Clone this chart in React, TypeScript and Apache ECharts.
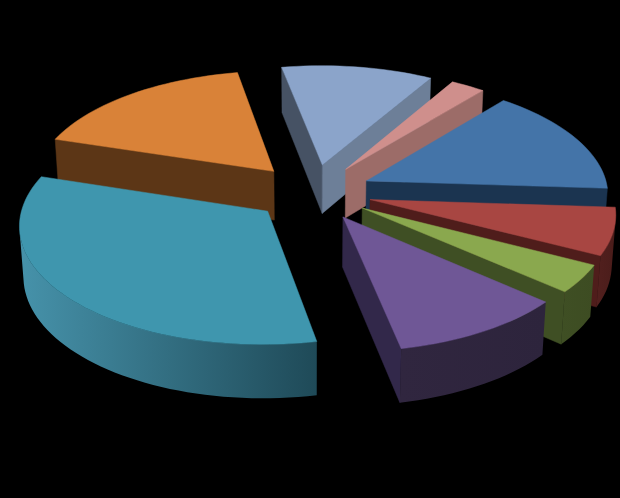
import React, { useEffect, useRef } from "react";
import * as echarts from "echarts";

// Slice data, in clockwise order from the first slice
const categories = ["A", "B", "C", "D", "E", "F", "G", "H"];
const values = [15.06, 6.55, 3.85, 10.4, 33, 17.2, 11.36, 2.58];

// Colours of each face
const topColors = ["#4474a8", "#a84642", "#8aa84e", "#6f5796", "#3f96ae", "#d98238", "#8ba4ca", "#cf8f8c"];
const startWallColors = ["#1b3450", "#4f1d1b", "#3f4f24", "#30263f", "#2a5f70", "#5c3616", "#465264", "#9c6c68"];
const endWallColors = ["#1b3450", "#4f1d1b", "#3f4f24", "#32284a", "#2a5f70", "#5c3616", "#6d7f98", "#9c6c68"];
const outerLeftColors = ["#1b3450", "#52201e", "#3f4f24", "#30263f", "#4692aa", "#5c3616", "#6d7f98", "#9c6c68"];
const outerRightColors = ["#1b3450", "#4a1c1a", "#3d4c22", "#2d243c", "#1f4a58", "#5c3616", "#6d7f98", "#9c6c68"];

// 3D pie view
const START_ANGLE = 39.5;
const EXPLODE = 0.245;
const THICKNESS = 0.235;
const CENTER_X = 312.5;
const CENTER_Y = 192;
const RADIUS = 242;
const SIN_ELEV = 0.475;
const COS_ELEV = 0.88;
const PERSPECTIVE = 0.105;

const total = values.reduce((a, b) => a + b, 0);
const slices = (() => {
  let a = START_ANGLE;
  return values.map((v, i) => {
    const sweep = (v / total) * 360;
    const s = { index: i, from: a, to: a + sweep, mid: a + sweep / 2 };
    a += sweep;
    return s;
  });
})();
const drawOrder = [...slices].sort((p, q) => Math.cos((q.mid * Math.PI) / 180) - Math.cos((p.mid * Math.PI) / 180) > 0 ? 1 : -1);

const rad = (d: number) => (d * Math.PI) / 180;

function project(u: number, v: number, z: number): number[] {
  const yc = v * SIN_ELEV + z * COS_ELEV;
  const depth = v * COS_ELEV - z * SIN_ELEV;
  const s = 1 / (1 + depth * PERSPECTIVE / COS_ELEV);
  return [CENTER_X + RADIUS * u * s, CENTER_Y - RADIUS * yc * s];
}

function area(pts: number[][]): number {
  let a = 0;
  for (let i = 0; i < pts.length; i++) {
    const p = pts[i];
    const q = pts[(i + 1) % pts.length];
    a += p[0] * q[1] - q[0] * p[1];
  }
  return a / 2;
}

function polygon(points: number[][], fill: any) {
  return {
    type: "polygon",
    shape: { points },
    style: { fill, stroke: typeof fill === "string" ? fill : undefined, lineWidth: typeof fill === "string" ? 0.5 : 0 },
  };
}

function renderSlice(params: any) {
  const slice = drawOrder[params.dataIndex];
  const i = slice.index;
  const ox = Math.sin(rad(slice.mid)) * EXPLODE;
  const oy = Math.cos(rad(slice.mid)) * EXPLODE;
  const rim = (deg: number, z: number) =>
    project(ox + Math.sin(rad(deg)), oy + Math.cos(rad(deg)), z);
  const apexTop = project(ox, oy, 0);
  const apexBottom = project(ox, oy, -THICKNESS);
  const steps = Math.max(2, Math.ceil((slice.to - slice.from) / 2));
  const angles: number[] = [];
  for (let k = 0; k <= steps; k++) angles.push(slice.from + ((slice.to - slice.from) * k) / steps);

  const children: any[] = [];
  // radial walls, kept only if they face the viewer
  const startQuad = [apexTop, rim(slice.from, 0), rim(slice.from, -THICKNESS), apexBottom];
  const endQuad = [apexTop, rim(slice.to, 0), rim(slice.to, -THICKNESS), apexBottom];
  if (area(startQuad) < 0) children.push(polygon(startQuad, startWallColors[i]));
  if (area(endQuad) > 0) children.push(polygon(endQuad, endWallColors[i]));

  // visible part of the curved outer wall
  const visible: number[] = [];
  for (let k = 0; k < steps; k++) {
    const quad = [rim(angles[k], 0), rim(angles[k + 1], 0), rim(angles[k + 1], -THICKNESS), rim(angles[k], -THICKNESS)];
    if (area(quad) < 0) {
      if (!visible.length) visible.push(angles[k]);
      visible.push(angles[k + 1]);
    }
  }
  if (visible.length > 1) {
    const pts = [
      ...visible.map((a) => rim(a, 0)),
      ...[...visible].reverse().map((a) => rim(a, -THICKNESS)),
    ];
    const fill = new echarts.graphic.LinearGradient(0, 0, 1, 0, [
      { offset: 0, color: outerLeftColors[i] },
      { offset: 1, color: outerRightColors[i] },
    ]);
    children.push(polygon(pts, fill));
  }

  // top face
  children.push(polygon([apexTop, ...angles.map((a) => rim(a, 0))], topColors[i]));
  return { type: "group", children };
}

export default function App() {
  const ref = useRef<HTMLDivElement>(null);
  useEffect(() => {
    document.body.style.margin = "0";
    document.body.style.background = "#000";
    const chart = echarts.init(ref.current!, undefined, { renderer: "svg" });
    chart.setOption({
      animation: false,
      backgroundColor: "#000000",
      series: [
        {
          type: "custom",
          coordinateSystem: "none",
          silent: true,
          clip: false,
          renderItem: renderSlice,
          data: drawOrder.map((s) => ({ name: categories[s.index], value: values[s.index] })),
        },
      ],
    });
    return () => chart.dispose();
  }, []);
  return <div ref={ref} style={{ width: 620, height: 498 }} />;
}
